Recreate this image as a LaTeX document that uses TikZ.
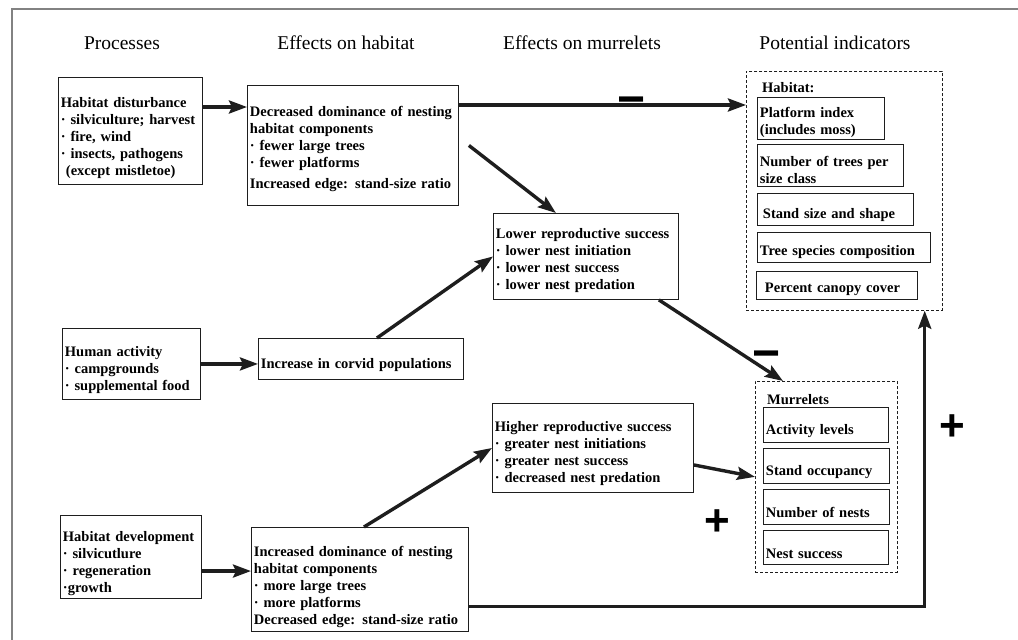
\documentclass[tikz,border=0pt]{standalone}
\usepackage{fontspec}
\setmainfont{Liberation Serif}
\newfontfamily\signfont{Liberation Sans}
\usetikzlibrary{arrows.meta,positioning}
\definecolor{framegray}{RGB}{130,130,130}
\definecolor{inkgray}{RGB}{30,30,30}
\hyphenpenalty=10000

\begin{document}
\begin{tikzpicture}[x=1pt,y=-1pt,every node/.style={inner sep=0pt},
  head/.style={font=\fontsize{19.5}{22}\selectfont},
  drop/.style={execute at begin node={\rule{0pt}{#1pt}}},
  box/.style 2 args={draw=inkgray,line width=0.9pt,anchor=north west,align=left,
    inner xsep=2.5pt,inner ysep=3pt,text width=#1pt,minimum height=#2pt,
    font=\fontsize{14.5}{17}\selectfont\bfseries},
  group/.style 2 args={draw=inkgray,dash pattern=on 3pt off 2pt,line width=0.7pt,
    anchor=north west,minimum width=#1pt,minimum height=#2pt},
  tag/.style={anchor=west,font=\fontsize{14.5}{17}\selectfont\bfseries},
  sign/.style={font=\signfont\bfseries\fontsize{44}{44}\selectfont},
  arr/.style={line width=3.4pt,draw=inkgray,-{Stealth[length=18pt,width=13pt,inset=3pt]}}]
\useasboundingbox (0,0) rectangle (1018,640);
\draw[framegray,line width=1.5pt] (12,640) -- (12,9) -- (1018,9);

% column heads
\node[head] (hproc) at (122,43) {Processes};
\node[head] (hhab) at (346,43) {Effects on habitat};
\node[head] (hmur) at (582,43) {Effects on murrelets};
\node[head] (hind) at (835,43) {Potential indicators};

% processes
\node[box={139}{107},drop=25] (disturb) at (58,77) {Habitat disturbance\\· silviculture; harvest\\· fire, wind\\· insects, pathogens\\\hspace*{5pt}(except mistletoe)};
\node[box={133}{71},drop=23] (human) at (62,328) {Human activity\\· campgrounds\\· supplemental food};
\node[box={136}{81},drop=23] (develop) at (60,515) {Habitat development\\· silvicutlure\\· regeneration\\·growth};

% effects on habitat
\node[box={206}{120},drop=17] (decr) at (247,85) {Decreased dominance of nesting\\habitat components\\· fewer large trees\\· fewer platforms\\[4pt]Increased edge: stand-size ratio};
\node[box={200}{41},drop=23] (corvid) at (258,338) {Increase in corvid populations};
\node[box={212}{104},drop=25] (incr) at (251,527) {Increased dominance of nesting\\habitat components\\· more large trees\\· more platforms\\Decreased edge: stand-size ratio};

% effects on murrelets
\node[box={180}{86},drop=19] (lower) at (493,213) {Lower reproductive success\\· lower nest initiation\\· lower nest success\\· lower nest predation};
\node[box={196}{89},drop=21] (higher) at (492,403) {Higher reproductive success\\· greater nest initiations\\· greater nest success\\· decreased nest predation};

% potential indicators
\node[group={196}{239}] (habbox) at (746,71) {};
\node[tag] (habl) at (762,88) {Habitat:};
\node[box={122}{42},inner ysep=1pt,drop=19] (platform) at (757,97) {Platform index\\(includes moss)};
\node[box={141}{42},inner ysep=1pt,drop=19] (ntrees) at (757,144) {Number of trees per\\size class};
\node[box={151}{32},drop=21] (standsize) at (757,193) {\hspace*{3pt}Stand size and shape};
\node[box={168}{30},drop=19] (species) at (757,232) {Tree species composition};
\node[box={156}{28},drop=18] (canopy) at (756,271) {\hspace*{6pt}Percent canopy cover};

\node[group={142}{191}] (murbox) at (755,381) {};
\node[tag] (murl) at (767,400) {Murrelets};
\node[box={120}{35},drop=22] (activity) at (763,407) {Activity levels};
\node[box={121}{35},drop=22] (occupancy) at (763,448) {Stand occupancy};
\node[box={121}{35},drop=22] (nnests) at (763,489) {Number of nests};
\node[box={120}{34},drop=22] (nsuccess) at (763,530) {Nest success};

% signs
\node[sign,font=\signfont\bfseries\fontsize{48}{48}\selectfont] (minusA) at (632,106) {−};
\node[sign,font=\signfont\bfseries\fontsize{48}{48}\selectfont] (minusB) at (767,360) {−};
\node[sign] (plusA) at (717,523) {+};
\node[sign] (plusB) at (952,428) {+};

% connectors
\coordinate (d1) at ([yshift=-30pt]disturb.north east);
\draw[arr] (d1) -- (d1 -| decr.west);
\coordinate (d2) at ([yshift=-20pt]decr.north east);
\draw[arr] (d2) -- (d2 -| habbox.west);
\draw[arr] ([xshift=10pt]decr.east) -- ([xshift=-30pt]lower.north);
\draw[arr] (human.east) -- (human.east -| corvid.west);
\draw[arr] ([xshift=16pt]corvid.north) -- (lower.west);
\coordinate (d3) at ([yshift=-14pt]develop.east);
\draw[arr] (d3) -- (d3 -| incr.west);
\draw[arr] ([xshift=4pt]incr.north) -- (higher.west);
\draw[arr] ([yshift=-17pt]higher.east) -- (murbox.west);
\draw[arr] ([xshift=-20pt]lower.south east) -- ([xshift=28pt]murbox.north west);
\coordinate (d4) at ([yshift=-27pt]incr.east);
\draw[arr] (d4) -| ([xshift=-18pt]habbox.south east);
\end{tikzpicture}
\end{document}
